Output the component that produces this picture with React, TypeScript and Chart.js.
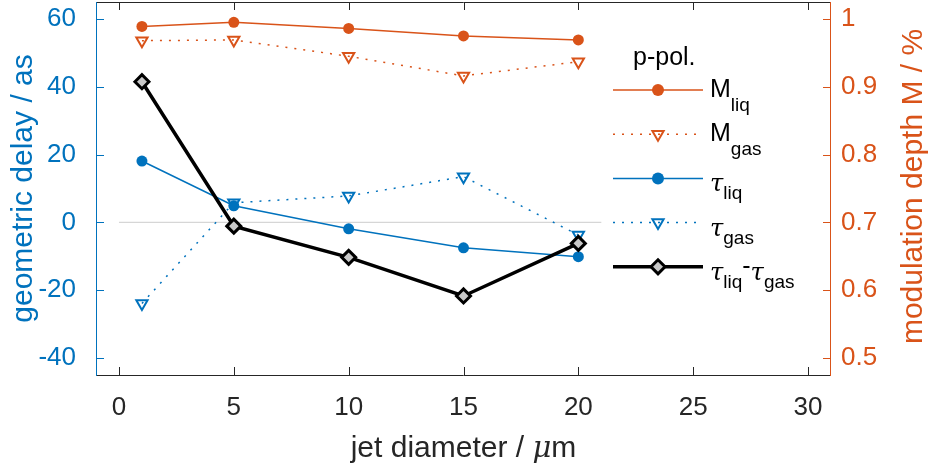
import React, { useEffect, useRef } from 'react';
import { Chart, registerables } from 'chart.js';

Chart.register(...registerables);

// ---------- data ----------
const xValues = [1, 5, 10, 15, 20];
const mLiq = [0.989, 0.995, 0.986, 0.975, 0.969];
const mGas = [0.968, 0.969, 0.945, 0.916, 0.937];
const tauLiq = [18.1, 4.9, -1.9, -7.5, -10.1];
const tauGas = [-23.9, 5.8, 7.8, 13.5, -3.7];
const tauDiff = [41.5, -1.1, -10.3, -21.7, -6.2];
const zeroLineX = [0, 21];
const zeroLineY = [0, 0];

const xTicks = [0, 5, 10, 15, 20, 25, 30];
const yTicks = [-40, -20, 0, 20, 40, 60];
const y2Ticks = [0.5, 0.6, 0.7, 0.8, 0.9, 1];

const xTitle = 'jet diameter / ';
const xTitleMu = 'μ';
const xTitleEnd = 'm';
const yTitle = 'geometric delay / as';
const y2Title = 'modulation depth M / %';
const legendTitle = 'p-pol.';

type Part = { t: string; kind: 'main' | 'sub' | 'sym' };
const legendLabels: Part[][] = [
  [{ t: 'M', kind: 'main' }, { t: 'liq', kind: 'sub' }],
  [{ t: 'M', kind: 'main' }, { t: 'gas', kind: 'sub' }],
  [{ t: 'τ', kind: 'sym' }, { t: 'liq', kind: 'sub' }],
  [{ t: 'τ', kind: 'sym' }, { t: 'gas', kind: 'sub' }],
  [
    { t: 'τ', kind: 'sym' },
    { t: 'liq', kind: 'sub' },
    { t: '-', kind: 'main' },
    { t: 'τ', kind: 'sym' },
    { t: 'gas', kind: 'sub' },
  ],
];

// ---------- styles ----------
const ORANGE = '#D95319';
const BLUE = '#0072BD';
const DARK = '#262626';
const DIAMOND_FILL = '#c8c8c8';
const ZERO_COLOR = '#d6d6d6';
const FONT = '"Liberation Sans", Arial, Helvetica, sans-serif';
const SERIF = '"DejaVu Serif", "Liberation Serif", serif';

const toXY = (xs: number[], ys: number[]) => xs.map((x, i) => ({ x, y: ys[i] }));

type LegendStyle = {
  color: string;
  dash: number[];
  lineWidth: number;
  marker: 'circle' | 'tri' | 'diamond';
};
const legendStyles: LegendStyle[] = [
  { color: ORANGE, dash: [], lineWidth: 1.5, marker: 'circle' },
  { color: ORANGE, dash: [2, 7], lineWidth: 1.5, marker: 'tri' },
  { color: BLUE, dash: [], lineWidth: 1.5, marker: 'circle' },
  { color: BLUE, dash: [2, 7], lineWidth: 1.5, marker: 'tri' },
  { color: '#000000', dash: [], lineWidth: 3.5, marker: 'diamond' },
];

function drawMarker(ctx: CanvasRenderingContext2D, s: LegendStyle, x: number, y: number) {
  ctx.save();
  ctx.setLineDash([]);
  if (s.marker === 'circle') {
    ctx.fillStyle = s.color;
    ctx.beginPath();
    ctx.arc(x, y, 6, 0, Math.PI * 2);
    ctx.fill();
  } else if (s.marker === 'tri') {
    const r = 6.5;
    ctx.strokeStyle = s.color;
    ctx.lineWidth = 2;
    ctx.beginPath();
    ctx.moveTo(x, y + r);
    ctx.lineTo(x - r * Math.sin(Math.PI / 3), y - r / 2);
    ctx.lineTo(x + r * Math.sin(Math.PI / 3), y - r / 2);
    ctx.closePath();
    ctx.stroke();
  } else {
    const r = 7;
    ctx.fillStyle = DIAMOND_FILL;
    ctx.strokeStyle = '#000';
    ctx.lineWidth = 3;
    ctx.beginPath();
    ctx.moveTo(x - r, y);
    ctx.lineTo(x, y - r);
    ctx.lineTo(x + r, y);
    ctx.lineTo(x, y + r);
    ctx.closePath();
    ctx.fill();
    ctx.stroke();
  }
  ctx.restore();
}

const axesPlugin = {
  id: 'matlabAxes',
  beforeDatasetsDraw(chart: any) {
    const { ctx, chartArea, scales } = chart;
    const { left, right, top, bottom } = chartArea;
    const TL = 8;
    ctx.save();
    ctx.lineWidth = 1;
    ctx.setLineDash([]);
    const seg = (x1: number, y1: number, x2: number, y2: number) => {
      ctx.beginPath();
      ctx.moveTo(x1, y1);
      ctx.lineTo(x2, y2);
      ctx.stroke();
    };
    ctx.strokeStyle = DARK;
    seg(left, Math.round(bottom) + 0.5, right, Math.round(bottom) + 0.5);
    seg(left, Math.round(top) + 0.5, right, Math.round(top) + 0.5);
    xTicks.forEach((v) => {
      const px = Math.round(scales.x.getPixelForValue(v)) + 0.5;
      seg(px, bottom, px, bottom - TL);
      seg(px, top, px, top + TL);
    });
    ctx.strokeStyle = BLUE;
    seg(Math.round(left) + 0.5, top, Math.round(left) + 0.5, bottom + 1);
    yTicks.forEach((v) => {
      const py = Math.round(scales.y.getPixelForValue(v)) + 0.5;
      seg(left, py, left + TL, py);
    });
    ctx.strokeStyle = ORANGE;
    seg(Math.round(right) - 0.5, top, Math.round(right) - 0.5, bottom + 1);
    y2Ticks.forEach((v) => {
      const py = Math.round(scales.y2.getPixelForValue(v)) + 0.5;
      seg(right, py, right - TL, py);
    });
    ctx.restore();
  },
  afterDraw(chart: any) {
    const { ctx, chartArea } = chart;
    const { left, right, top, bottom } = chartArea;
    ctx.save();
    ctx.textBaseline = 'alphabetic';

    // x title
    const f1 = `30px ${FONT}`;
    const fMu = `italic 29px ${SERIF}`;
    ctx.font = f1;
    const w1 = ctx.measureText(xTitle).width;
    const w3 = ctx.measureText(xTitleEnd).width;
    ctx.font = fMu;
    const w2 = ctx.measureText(xTitleMu).width;
    let tx = (left + right) / 2 - (w1 + w2 + w3) / 2;
    const ty = 457;
    ctx.fillStyle = DARK;
    ctx.textAlign = 'left';
    ctx.font = f1;
    ctx.fillText(xTitle, tx, ty);
    tx += w1;
    ctx.font = fMu;
    ctx.fillText(xTitleMu, tx, ty);
    tx += w2;
    ctx.font = f1;
    ctx.fillText(xTitleEnd, tx, ty);

    // left title
    ctx.save();
    ctx.translate(31.5, (top + bottom) / 2);
    ctx.rotate(-Math.PI / 2);
    ctx.textAlign = 'center';
    ctx.fillStyle = BLUE;
    ctx.font = `30px ${FONT}`;
    ctx.fillText(yTitle, 0, 0);
    ctx.restore();

    // right title
    ctx.save();
    ctx.translate(922, (top + bottom) / 2 - 2);
    ctx.rotate(-Math.PI / 2);
    ctx.textAlign = 'center';
    ctx.fillStyle = ORANGE;
    ctx.font = `30px ${FONT}`;
    ctx.fillText(y2Title, 0, 0);
    ctx.restore();

    // legend
    ctx.textAlign = 'left';
    ctx.fillStyle = '#000';
    ctx.font = `25px ${FONT}`;
    ctx.fillText(legendTitle, 633, 65);
    const lineX1 = 613;
    const lineX2 = 703;
    const markX = 658;
    const textX = 710;
    legendStyles.forEach((s, i) => {
      const ly = 90 + i * 44.2;
      ctx.save();
      ctx.strokeStyle = s.color;
      ctx.lineWidth = s.lineWidth;
      ctx.setLineDash(s.dash);
      ctx.beginPath();
      ctx.moveTo(lineX1, ly);
      ctx.lineTo(lineX2, ly);
      ctx.stroke();
      ctx.restore();
      drawMarker(ctx, s, markX, ly);
      let px = textX;
      legendLabels[i].forEach((p) => {
        let font = `25px ${FONT}`;
        let off = 7;
        if (p.kind === 'sub') {
          font = `19px ${FONT}`;
          off = 21;
        } else if (p.kind === 'sym') {
          font = `italic 24px ${SERIF}`;
          off = 13;
        }
        ctx.font = font;
        ctx.fillStyle = '#000';
        ctx.fillText(p.t, px, ly + off);
        px += ctx.measureText(p.t).width;
      });
    });
    ctx.restore();
  },
};

export default function App() {
  const canvasRef = useRef<HTMLCanvasElement | null>(null);

  useEffect(() => {
    const canvas = canvasRef.current;
    if (!canvas) return;
    const chart = new Chart(canvas, {
      type: 'line',
      data: {
        datasets: [
          {
            label: 'diff',
            data: toXY(xValues, tauDiff),
            yAxisID: 'y',
            borderColor: '#000',
            borderWidth: 3.5,
            pointStyle: 'rectRot',
            pointRadius: 7,
            pointBorderWidth: 3,
            pointBackgroundColor: DIAMOND_FILL,
            pointBorderColor: '#000',
            order: 0,
          },
          {
            label: 'M liq',
            data: toXY(xValues, mLiq),
            yAxisID: 'y2',
            borderColor: ORANGE,
            borderWidth: 1.5,
            pointStyle: 'circle',
            pointRadius: 5.5,
            pointBorderWidth: 0,
            pointBackgroundColor: ORANGE,
            order: 1,
          },
          {
            label: 'M gas',
            data: toXY(xValues, mGas),
            yAxisID: 'y2',
            borderColor: ORANGE,
            borderWidth: 1.5,
            borderDash: [2, 7],
            pointStyle: 'triangle',
            rotation: 180,
            pointRadius: 6.5,
            pointBorderWidth: 2,
            pointBorderColor: ORANGE,
            pointBackgroundColor: 'rgba(255,255,255,0)',
            order: 2,
          },
          {
            label: 'tau liq',
            data: toXY(xValues, tauLiq),
            yAxisID: 'y',
            borderColor: BLUE,
            borderWidth: 1.5,
            pointStyle: 'circle',
            pointRadius: 5.5,
            pointBorderWidth: 0,
            pointBackgroundColor: BLUE,
            order: 3,
          },
          {
            label: 'tau gas',
            data: toXY(xValues, tauGas),
            yAxisID: 'y',
            borderColor: BLUE,
            borderWidth: 1.5,
            borderDash: [2, 7],
            pointStyle: 'triangle',
            rotation: 180,
            pointRadius: 6.5,
            pointBorderWidth: 2,
            pointBorderColor: BLUE,
            pointBackgroundColor: 'rgba(255,255,255,0)',
            order: 4,
          },
          {
            label: 'zero',
            data: toXY(zeroLineX, zeroLineY),
            yAxisID: 'y',
            borderColor: ZERO_COLOR,
            borderWidth: 1.2,
            pointRadius: 0,
            order: 10,
          },
        ],
      },
      options: {
        responsive: false,
        animation: false,
        devicePixelRatio: 1,
        layout: { autoPadding: false, padding: { top: 2, left: 0, right: 0, bottom: 0 } },
        plugins: {
          legend: { display: false },
          tooltip: { enabled: false },
          title: { display: false },
        },
        elements: { line: { tension: 0 } },
        scales: {
          x: {
            type: 'linear',
            min: -1,
            max: 31,
            grid: { display: false, drawTicks: false },
            border: { display: false },
            afterBuildTicks: (s: any) => {
              s.ticks = xTicks.map((v) => ({ value: v }));
            },
            afterFit: (s: any) => {
              s.height = 94;
              s.paddingLeft = 0;
              s.paddingRight = 0;
            },
            ticks: {
              color: DARK,
              font: { family: FONT, size: 26 },
              padding: 17,
              maxRotation: 0,
              autoSkip: false,
              callback: (v: any) => String(v),
            },
          },
          y: {
            type: 'linear',
            position: 'left',
            min: -45,
            max: 65,
            grid: { display: false, drawTicks: false },
            border: { display: false },
            afterBuildTicks: (s: any) => {
              s.ticks = yTicks.map((v) => ({ value: v }));
            },
            afterFit: (s: any) => {
              s.width = 96;
              s.paddingTop = 0;
              s.paddingBottom = 0;
            },
            ticks: {
              color: BLUE,
              font: { family: FONT, size: 26 },
              padding: 20,
              autoSkip: false,
              callback: (v: any) => String(v),
            },
          },
          y2: {
            type: 'linear',
            position: 'right',
            min: 0.475,
            max: 1.025,
            grid: { display: false, drawTicks: false },
            border: { display: false },
            afterBuildTicks: (s: any) => {
              s.ticks = y2Ticks.map((v) => ({ value: v }));
            },
            afterFit: (s: any) => {
              s.width = 98;
              s.paddingTop = 0;
              s.paddingBottom = 0;
            },
            ticks: {
              color: ORANGE,
              font: { family: FONT, size: 26 },
              padding: 10,
              autoSkip: false,
              callback: (v: any) => String(Math.round(v * 10) / 10),
            },
          },
        },
      },
      plugins: [axesPlugin],
    } as any);
    return () => chart.destroy();
  }, []);

  return (
    <div style={{ position: 'absolute', left: 0, top: 0, width: 929, height: 469, background: '#fff' }}>
      <canvas ref={canvasRef} width={929} height={469} style={{ display: 'block' }} />
    </div>
  );
}
